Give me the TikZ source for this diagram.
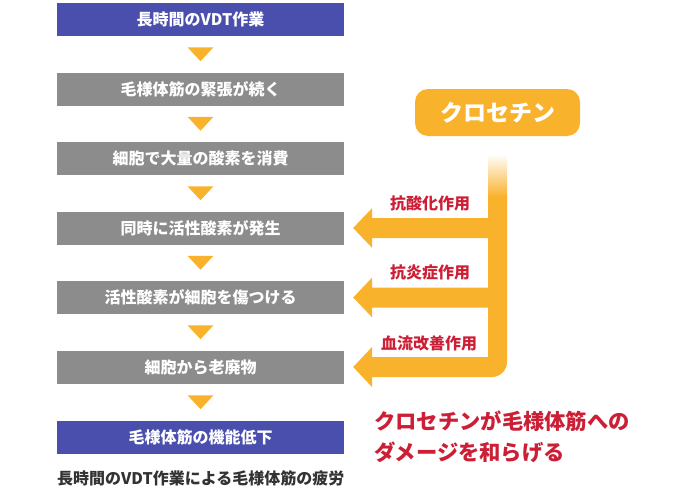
\documentclass[tikz,border=0pt]{standalone}
\usepackage{fontspec}
\setmainfont{Noto Sans CJK JP}
\usetikzlibrary{calc}
\definecolor{blu}{HTML}{4A4FAE}
\definecolor{gry}{HTML}{8C8C8C}
\definecolor{orng}{HTML}{F9B22B}
\definecolor{rd}{HTML}{CC1F36}
\definecolor{dk}{HTML}{333333}
\begin{document}
\begin{tikzpicture}[
  x=1pt, y=-1pt,
  box/.style={minimum width=287pt, minimum height=33pt, inner sep=0pt,
    text=white, font=\fontsize{16}{18}\selectfont\bfseries},
  bluebox/.style={box, fill=blu},
  graybox/.style={box, fill=gry},
  tri/.style={fill=orng},
  pill/.style={fill=orng, rounded corners=13pt, minimum width=165pt,
    minimum height=47pt, text=white, font=\fontsize{23}{25}\selectfont\bfseries},
  eff/.style={text=rd, font=\fontsize{16}{18}\selectfont\bfseries},
  msg/.style={text=rd, align=left, inner sep=0pt,
    font=\fontsize{21.3}{31}\selectfont\bfseries},
  captext/.style={text=dk, inner sep=0pt, font=\fontsize{16}{18}\selectfont\bfseries}
]
  \useasboundingbox (0,0) rectangle (690,490);

  % flow of boxes
  \node[bluebox] (b1) at (200.5,19.5) {長時間のVDT作業};
  \node[graybox] (b2) at (200.5,89) {毛様体筋の緊張が続く};
  \node[graybox] (b3) at (200.5,158.5) {細胞で大量の酸素を消費};
  \node[graybox] (b4) at (200.5,228) {同時に活性酸素が発生};
  \node[graybox] (b5) at (200.5,297.5) {活性酸素が細胞を傷つける};
  \node[graybox] (b6) at (200.5,367) {細胞から老廃物};
  \node[bluebox] (b7) at (200.5,437.5) {毛様体筋の機能低下};
  \foreach \a/\b in {b1/b2,b2/b3,b3/b4,b4/b5,b5/b6,b6/b7}
    \fill[tri] ($(\a.south)!.5!(\b.north)$) ++(-13,-7) -- ++(26,0) -- ++(-13,14) -- cycle;

  % crocetin and its effects
  \node[pill] (cro) at (497.5,112.5) {クロセチン};
  \shade[top color=white, bottom color=orng] (488,154) rectangle (507,197);
  \foreach \b in {b4,b5}
    \fill[orng] ($(\b.east)+(9,0)$) -- ++(19,-20) -- ++(0,10) -- ++(123,0)
      -- ++(0,20) -- ++(-123,0) -- ++(0,10) -- cycle;
  \fill[orng] (507,250) [rounded corners=15pt] -- (507,377) -- (390,377)
    [sharp corners] -- (372,377) -- (372,387) -- ($(b6.east)+(9,0)$)
    -- (372,347) -- (372,357) -- (488,357) -- (488,196) -- (507,196) -- cycle;

  \node[eff] (e1) at (430,203) {抗酸化作用};
  \node[eff] (e2) at (430,272) {抗炎症作用};
  \node[eff] (e3) at (429,343) {血流改善作用};

  % result
  \node[msg, anchor=west] (res) at (374,436.5) {クロセチンが毛様体筋への\\ダメージを和らげる};

  % caption
  \node[captext, anchor=west] (capt) at (57,478) {長時間のVDT作業による毛様体筋の疲労};
\end{tikzpicture}
\end{document}
